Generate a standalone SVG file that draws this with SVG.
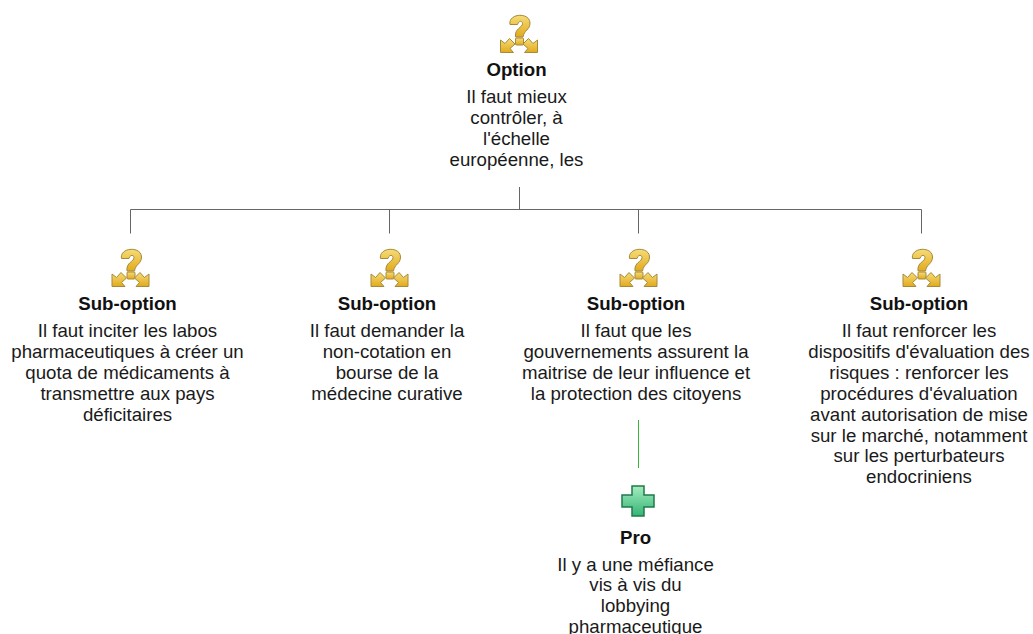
<svg xmlns="http://www.w3.org/2000/svg" width="1033" height="634" viewBox="0 0 1033 634">
<style>
text{font-family:"Liberation Sans",Arial,sans-serif;font-size:18.67px;fill:#1a1a1a;text-anchor:middle}
.t{font-weight:bold;fill:#111}
.c{fill:none;stroke:#666;stroke-width:1}
.g{fill:none;stroke:#3cb43c;stroke-width:1}
</style>
<defs>
<linearGradient id="y" x1="0" y1="0" x2="0" y2="1"><stop offset="0" stop-color="#f6dc78"/><stop offset="1" stop-color="#e2aa1c"/></linearGradient>
<linearGradient id="gr" x1="0" y1="0" x2="0" y2="1"><stop offset="0" stop-color="#a4ecc0"/><stop offset="1" stop-color="#34b474"/></linearGradient>
<symbol id="q" viewBox="0 0 40 40" overflow="visible">
<g fill="url(#y)" stroke="#a58a3a" stroke-width="1">
<path d="M11 11.500 C9 0 31 -1 31 10 C31 17 25 17 24 24 L16.500 24 C15.500 15 23.500 15 23.500 10.500 C23.500 7.500 19.500 7.500 18.500 11.500 Z"/>
<rect x="16.500" y="25" width="8" height="7" rx="1"/>
<path d="M1.500 27 L6 30.500 L10.500 25.500 L16 31 L11 35.500 L14.500 39.500 L1.500 39.500 Z"/>
<path d="M38.500 27 L34 30.500 L29.500 25.500 L24 31 L29 35.500 L25.500 39.500 L38.500 39.500 Z"/>
</g>
</symbol>
</defs>
<g id="connectors">
<path class="c" d="M519.500 187V209M130.500 233.500V209.500H921.500V233.500M389.500 209.500V233.500M638.500 209.500V233.500"/>
<path class="g" d="M638.500 420V468"/>
</g>
<g id="option">
<use href="#q" x="499" y="13" width="40" height="40"/>
<text class="t" x="516.500" y="76">Option</text>
<text x="516.500" y="103">Il faut mieux</text>
<text x="516.500" y="124">contrôler, à</text>
<text x="516.500" y="145">l'échelle</text>
<text x="516.500" y="166">européenne, les</text>
</g>
<g id="sub1">
<use href="#q" x="110.500" y="247" width="40" height="40"/>
<text class="t" x="127.500" y="310">Sub-option</text>
<text x="127.500" y="337">Il faut inciter les labos</text>
<text x="127.500" y="358">pharmaceutiques à créer un</text>
<text x="127.500" y="379">quota de médicaments à</text>
<text x="127.500" y="400">transmettre aux pays</text>
<text x="127.500" y="421">déficitaires</text>
</g>
<g id="sub2">
<use href="#q" x="369.500" y="247" width="40" height="40"/>
<text class="t" x="387" y="310">Sub-option</text>
<text x="387" y="337">Il faut demander la</text>
<text x="387" y="358">non-cotation en</text>
<text x="387" y="379">bourse de la</text>
<text x="387" y="400">médecine curative</text>
</g>
<g id="sub3">
<use href="#q" x="618.500" y="247" width="40" height="40"/>
<text class="t" x="636" y="310">Sub-option</text>
<text x="636" y="337">Il faut que les</text>
<text x="636" y="358">gouvernements assurent la</text>
<text x="636" y="379">maitrise de leur influence et</text>
<text x="636" y="400">la protection des citoyens</text>
</g>
<g id="sub4">
<use href="#q" x="901.500" y="247" width="40" height="40"/>
<text class="t" x="919" y="310">Sub-option</text>
<text x="919" y="337">Il faut renforcer les</text>
<text x="919" y="358">dispositifs d'évaluation des</text>
<text x="919" y="379">risques : renforcer les</text>
<text x="919" y="400">procédures d'évaluation</text>
<text x="919" y="421">avant autorisation de mise</text>
<text x="919" y="442">sur le marché, notamment</text>
<text x="919" y="462">sur les perturbateurs</text>
<text x="919" y="483">endocriniens</text>
</g>
<g id="pro">
<path fill="url(#gr)" stroke="#1f7a4a" stroke-width="1.500" d="M632 486H644V495H654V507H644V516H632V507H622V495H632Z"/>
<text class="t" x="635.500" y="544">Pro</text>
<text x="635.500" y="571">Il y a une méfiance</text>
<text x="635.500" y="591">vis à vis du</text>
<text x="635.500" y="612">lobbying</text>
<text x="635.500" y="633">pharmaceutique</text>
</g>
</svg>
